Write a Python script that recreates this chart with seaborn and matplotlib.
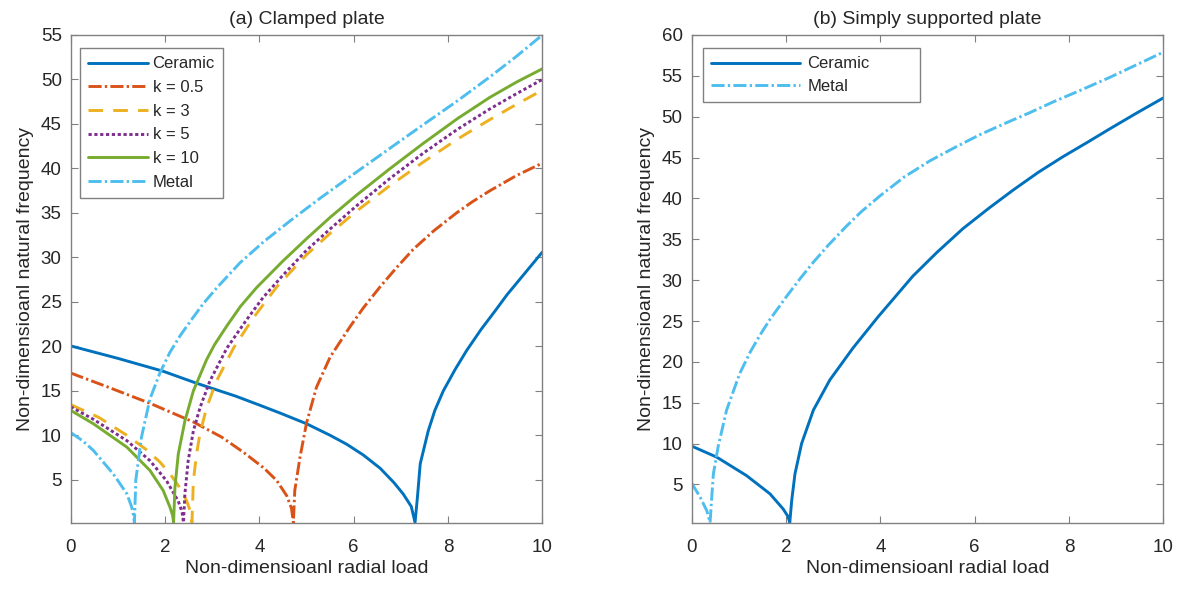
import numpy as np
import pandas as pd
import matplotlib
matplotlib.use('Agg')
import matplotlib.pyplot as plt
import seaborn as sns

# ---- (a) Clamped plate: values ----
a_ceramic_x = [0, 1.0, 1.96, 2.67, 3.5, 4.0, 4.44, 5.0, 5.5, 5.85, 6.2, 6.56, 6.85, 7.05, 7.22, 7.3,
               7.35, 7.41, 7.58, 7.72, 7.9, 8.15, 8.39, 8.7, 9.0, 9.25, 9.5, 9.75, 10]
a_ceramic_y = [20.05, 18.65, 17.2, 15.85, 14.4, 13.4, 12.5, 11.3, 10.0, 9.0, 7.8, 6.3, 4.7, 3.4, 2.0, 0.2,
               3.0, 6.8, 10.5, 12.8, 15.0, 17.4, 19.5, 21.9, 24.0, 25.8, 27.4, 29.0, 30.6]

a_k05_x = [0, 0.8, 1.68, 2.6, 3.2, 3.66, 4.1, 4.37, 4.58, 4.68, 4.72,
           4.75, 4.86, 5.0, 5.21, 5.5, 5.92, 6.2, 6.56, 6.9, 7.26, 7.7, 8.18, 8.5, 8.89, 9.45, 10]
a_k05_y = [17.0, 15.4, 13.6, 11.5, 9.8, 8.1, 6.3, 4.9, 3.2, 1.8, 0.2,
           3.8, 7.5, 11.4, 15.4, 18.8, 22.2, 24.3, 26.7, 28.8, 30.9, 33.0, 35.0, 36.2, 37.5, 39.2, 40.6]

a_k3_x = [0, 0.6, 1.19, 1.6, 1.89, 2.1, 2.3, 2.46, 2.54, 2.57,
          2.60, 2.67, 2.74, 2.88, 3.09, 3.45, 3.87, 4.37, 5.0, 5.5, 6.06, 6.75, 7.47, 8.2, 8.89, 9.45, 10]
a_k3_y = [13.45, 12.0, 10.0, 8.4, 7.0, 5.7, 4.2, 2.6, 1.4, 0.2,
          4.9, 8.0, 10.2, 13.1, 16.1, 19.8, 23.2, 26.7, 30.3, 32.7, 35.2, 38.0, 40.7, 43.3, 45.5, 47.2, 48.8]

a_k5_x = [0, 0.48, 1.19, 1.68, 2.03, 2.28, 2.36, 2.39,
          2.42, 2.49, 2.60, 2.74, 2.95, 3.31, 3.73, 4.08, 4.5, 5.0, 5.5, 6.06, 6.75, 7.47, 8.2, 8.89, 9.45, 10]
a_k5_y = [13.2, 11.8, 9.4, 7.15, 4.9, 2.6, 1.4, 0.2,
          3.4, 7.15, 10.5, 13.1, 16.1, 19.8, 23.0, 25.5, 28.0, 30.8, 33.2, 35.8, 38.8, 41.7, 44.4, 46.7, 48.4, 50.0]

a_k10_x = [0, 0.48, 1.19, 1.68, 1.96, 2.10, 2.16, 2.18,
           2.21, 2.28, 2.42, 2.60, 2.88, 3.05, 3.31, 3.6, 3.94, 4.5, 5.0, 5.5, 6.06, 6.75, 7.47, 8.2,
           8.89, 9.45, 10]
a_k10_y = [12.8, 11.3, 8.67, 6.05, 3.8, 1.97, 1.0, 0.2,
           4.2, 7.9, 11.6, 15.0, 18.5, 20.2, 22.3, 24.5, 26.6, 29.6, 32.1, 34.5, 37.0, 39.9, 42.8, 45.6,
           48.0, 49.7, 51.2]

a_metal_x = [0, 0.25, 0.48, 0.90, 1.19, 1.29, 1.33, 1.35,
             1.38, 1.50, 1.68, 1.89, 2.1, 2.32, 2.56, 2.81, 3.10, 3.59, 4.1, 4.65, 5.3, 6.06, 6.75,
             7.47, 8.2, 8.89, 9.45, 10]
a_metal_y = [10.3, 9.4, 8.3, 5.67, 3.43, 1.97, 1.0, 0.2,
             5.0, 9.8, 14.1, 17.0, 19.3, 21.2, 23.0, 24.8, 26.6, 29.4, 31.8, 34.1, 36.7, 39.6, 42.2,
             44.9, 47.6, 50.3, 52.6, 55.0]

# ---- (b) Simply supported plate ----
b_ceramic_x = [0, 0.53, 1.16, 1.66, 1.94, 2.04, 2.08,
               2.12, 2.19, 2.33, 2.58, 2.93, 3.42, 3.95, 4.69, 5.2, 5.75, 6.3, 6.81, 7.35, 7.87,
               8.4, 8.86, 9.45, 10]
b_ceramic_y = [9.7, 8.35, 6.1, 3.86, 2.0, 1.1, 0.35,
               3.0, 6.3, 10.0, 14.1, 17.8, 21.7, 25.5, 30.5, 33.4, 36.3, 38.8, 41.0, 43.2, 45.1,
               46.9, 48.5, 50.5, 52.3]

b_metal_x = [0, 0.18, 0.32, 0.39,
             0.42, 0.46, 0.56, 0.74, 1.02, 1.25, 1.45, 1.66, 2.01, 2.3, 2.58, 2.9, 3.28, 3.6, 3.99,
             4.5, 5.05, 5.6, 6.11, 6.65, 7.17, 7.7, 8.23, 8.86, 9.45, 10]
b_metal_y = [5.16, 3.45, 1.8, 0.35,
             3.0, 6.3, 9.6, 14.1, 18.6, 21.3, 23.3, 25.2, 28.0, 30.2, 32.2, 34.3, 36.6, 38.4, 40.3,
             42.6, 44.6, 46.3, 47.8, 49.2, 50.5, 51.9, 53.2, 54.8, 56.4, 57.9]

labels_a = ['Ceramic', 'k = 0.5', 'k = 3', 'k = 5', 'k = 10', 'Metal']
labels_b = ['Ceramic', 'Metal']

colors = {'Ceramic': '#0072BD', 'k = 0.5': '#D95319', 'k = 3': '#EDB120',
          'k = 5': '#7E2F8E', 'k = 10': '#77AC30', 'Metal': '#4DBEEE'}
dashes = {'Ceramic': None, 'k = 0.5': (4.5, 1.1, 0.8, 1.1), 'k = 3': (5, 3.5),
          'k = 5': (1.1, 0.9), 'k = 10': None, 'Metal': (4.5, 1.1, 0.8, 1.1)}

series_a = {'Ceramic': (a_ceramic_x, a_ceramic_y), 'k = 0.5': (a_k05_x, a_k05_y),
            'k = 3': (a_k3_x, a_k3_y), 'k = 5': (a_k5_x, a_k5_y),
            'k = 10': (a_k10_x, a_k10_y), 'Metal': (a_metal_x, a_metal_y)}
series_b = {'Ceramic': (b_ceramic_x, b_ceramic_y), 'Metal': (b_metal_x, b_metal_y)}

sns.set_theme(style='ticks')
plt.rcParams['font.family'] = ['Liberation Sans', 'DejaVu Sans']
plt.rcParams['xtick.direction'] = 'in'
plt.rcParams['ytick.direction'] = 'in'

text_c = '#262626'
spine_c = '#808080'

fig = plt.figure(figsize=(11.85, 5.9), dpi=100)
ax1 = fig.add_axes([0.0597, 0.1144, 0.398, 0.8263])
ax2 = fig.add_axes([0.5837, 0.1144, 0.398, 0.8263])


def draw(ax, series, names):
    for name in names:
        xs, ys = series[name]
        df = pd.DataFrame({'x': xs, 'y': ys})
        sns.lineplot(data=df, x='x', y='y', ax=ax, color=colors[name], linewidth=2.1,
                     label=name, sort=False, estimator=None)
        line = ax.lines[-1]
        if dashes[name] is not None:
            line.set_dashes(dashes[name])


def style(ax, title, ylim, yticks):
    ax.set_xlim(0, 10)
    ax.set_ylim(*ylim)
    ax.set_xticks(np.arange(0, 11, 2))
    ax.set_yticks(yticks)
    ax.tick_params(which='both', top=True, right=True, length=5, width=0.8,
                   color=spine_c, labelsize=13.5, labelcolor=text_c)
    ax.tick_params(axis='x', pad=12)
    ax.tick_params(axis='y', pad=6.5)
    for s in ax.spines.values():
        s.set_color(spine_c)
        s.set_linewidth(1.0)
    ax.set_title(title, fontsize=14, color=text_c, pad=8)
    ax.set_xlabel('Non-dimensioanl radial load', fontsize=14, color=text_c, labelpad=3)
    ax.set_ylabel('Non-dimensioanl natural frequency', fontsize=14, color=text_c, labelpad=5)


draw(ax1, series_a, labels_a)
style(ax1, '(a) Clamped plate', (0.2, 55), np.arange(5, 56, 5))
leg1 = ax1.legend(loc='upper left', bbox_to_anchor=(0.0197, 0.973), borderaxespad=0,
                  fontsize=12, handlelength=3.6, handletextpad=0.25, labelspacing=0.52,
                  borderpad=0.5, fancybox=False, framealpha=1, edgecolor=spine_c)
for t in leg1.get_texts():
    t.set_color(text_c)
leg1.get_frame().set_linewidth(1.0)

draw(ax2, series_b, labels_b)
style(ax2, '(b) Simply supported plate', (0.35, 60), np.arange(5, 61, 5))
leg2 = ax2.legend(loc='upper left', bbox_to_anchor=(0.024, 0.973, 0.46, 0), mode='expand',
                  borderaxespad=0, fontsize=12, handlelength=5.3, handletextpad=0.45,
                  labelspacing=0.45, borderpad=0.5, fancybox=False, framealpha=1,
                  edgecolor=spine_c)
for t in leg2.get_texts():
    t.set_color(text_c)
leg2.get_frame().set_linewidth(1.0)

fig.savefig('out.png', dpi=100)
